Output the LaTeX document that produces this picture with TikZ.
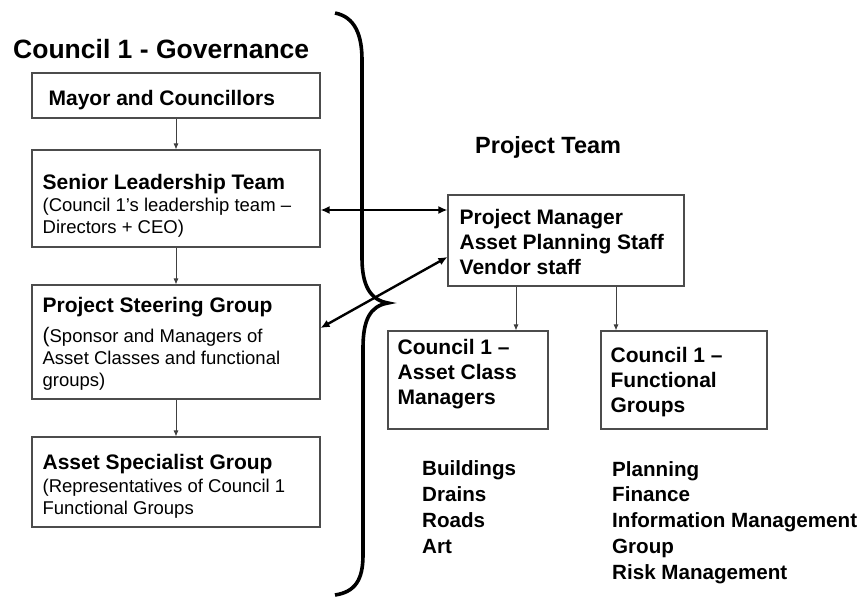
\documentclass[tikz,border=0pt]{standalone}
\usepackage{fontspec}
\setmainfont{Liberation Sans}
\usetikzlibrary{arrows.meta}

\begin{document}
\begin{tikzpicture}[x=1pt, y=-1pt,
  box/.style={draw=black!70, line width=1.1pt, inner sep=0pt},
  txt/.style={inner sep=0pt, anchor=base west, align=left},
  hd/.style={font=\fontsize{21}{25}\selectfont\bfseries},
  sub/.style={font=\fontsize{18.5}{22}\selectfont},
  down/.style={draw=black!75, line width=0.9pt, -{Latex[length=6pt,width=5pt]}},
  link/.style={line width=2.4pt, {Latex[length=9pt,width=8pt]}-{Latex[length=9pt,width=8pt]}}]
  \useasboundingbox (0,0) rectangle (865,597);
  % headings
  \node[txt, font=\fontsize{26.5}{30}\selectfont\bfseries] (gov) at (13,58) {Council 1 - Governance};
  \node[txt, font=\fontsize{23.5}{28}\selectfont\bfseries] (team) at (475,153) {Project Team};
  % governance column
  \node[box, minimum width=288, minimum height=45] (mayor) at (176,95.5) {};
  \node[box, minimum width=288, minimum height=97] (slt) at (176,198.5) {};
  \node[box, minimum width=288, minimum height=114] (psg) at (176,342) {};
  \node[box, minimum width=288, minimum height=90] (asg) at (176,482) {};
  \node[txt, hd] (mayorT) at ([xshift=17,yshift=-33]mayor.north west) {Mayor and Councillors};
  \node[txt, sub] (sltT) at ([xshift=11,yshift=-84]slt.north west)
    {{\bfseries\fontsize{21}{25}\selectfont Senior Leadership Team}\\(Council 1’s leadership team –\\Directors + CEO)};
  \node[txt, sub] (psgT) at ([xshift=11,yshift=-102]psg.north west)
    {{\bfseries\fontsize{21}{25}\selectfont Project Steering Group}\\[8pt]{\fontsize{21}{22}\selectfont(}Sponsor and Managers of\\Asset Classes and functional\\groups)};
  \node[txt, sub] (asgT) at ([xshift=11,yshift=-78]asg.north west)
    {{\bfseries\fontsize{21}{25}\selectfont Asset Specialist Group}\\[1pt](Representatives of Council 1\\Functional Groups};
  \draw[down] (mayor) -- (slt);
  \draw[down] (slt) -- (psg);
  \draw[down] (psg) -- (asg);
  % project team
  \node[box, minimum width=236, minimum height=91] (pm) at (566,240.5) {};
  \node[box, minimum width=160, minimum height=98] (acm) at (468,380) {};
  \node[box, minimum width=166, minimum height=98] (fg) at (684,380) {};
  \node[txt, hd] (pmT) at ([xshift=12,yshift=-80]pm.north west) {Project Manager\\Asset Planning Staff\\Vendor staff};
  \node[txt, hd] (acmT) at ([xshift=10,yshift=-74]acm.north west) {Council 1 –\\Asset Class\\Managers};
  \node[txt, hd] (fgT) at ([xshift=10,yshift=-82]fg.north west) {Council 1 –\\Functional\\Groups};
  \draw[down] ([xshift=-50]pm.south) -- ([xshift=-50]pm.south |- acm.north);
  \draw[down] ([xshift=50]pm.south) -- ([xshift=50]pm.south |- fg.north);
  \node[txt, font=\fontsize{20.6}{25.7}\selectfont\bfseries] (classes) at (422,553) {Buildings\\Drains\\Roads\\Art};
  \node[txt, font=\fontsize{20.6}{25.75}\selectfont\bfseries] (groups) at (612,579) {Planning\\Finance\\Information Management\\Group\\Risk Management};
  % brace
  \draw[line width=3.6pt] (335,13) .. controls (355,17) and (362,35) .. (362,60) -- (362,258)
    .. controls (362,285) and (370,300) .. (388,303)
    .. controls (370,306) and (363,320) .. (363,348) -- (363,555)
    .. controls (363,580) and (355,592) .. (335,595);
  % links
  \draw[link] ([yshift=-11.5]slt.east) -- ([yshift=-11.5]slt.east -| pm.west);
  \draw[link] ([yshift=14]psg.east) -- ([yshift=-16.5]pm.west);
\end{tikzpicture}
\end{document}
